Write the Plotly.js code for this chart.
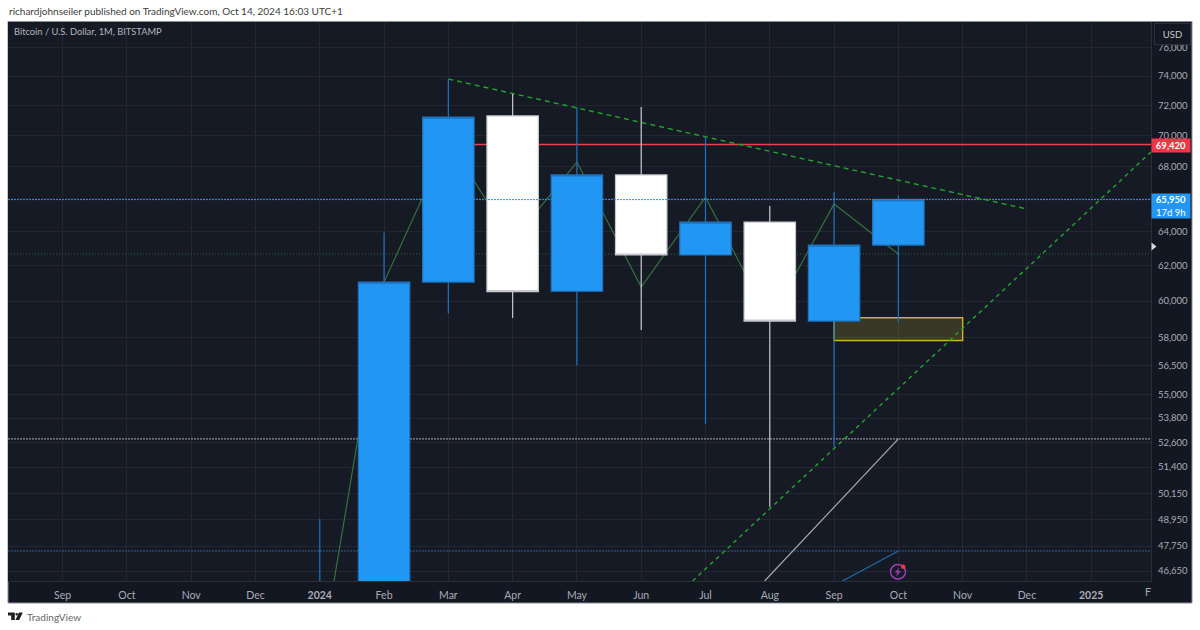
<!DOCTYPE html>
<html><head><meta charset="utf-8">
<script src="https://cdn.plot.ly/plotly-3.0.1.min.js"></script>
<style>html,body{margin:0;padding:0;background:#fff}</style></head>
<body><div id="chart" style="width:1200px;height:630px"></div>
<script>
// ---- data ----
const axisMonths = ['Sep','Oct','Nov','Dec','<b>2024</b>','Feb','Mar','Apr','May','Jun','Jul','Aug','Sep','Oct','Nov','Dec','<b>2025</b>'];
const axisMonthIdx = [0,1,2,3,4,5,6,7,8,9,10,11,12,13,14,15,16];
const candleIdx = [4,5,6,7,8,9,10,11,12,13];
const opens  = [42300,42600,61070,71300,60550,67480,62630,64580,58890,63210];
const highs  = [48970,63950,73790,72770,71890,71890,69900,65560,66410,66200];
const lows   = [38500,41900,59300,59060,56500,58400,53500,49520,52360,58800];
const closes = [42600,61070,71220,60530,67480,62630,64580,58890,63210,65950];
const priceTicks = [46650,47750,48950,50150,51400,52600,53800,55000,56500,58000,60000,62000,64000,66000,68000,70000,72000,74000,76000];
const priceTickText = ['46,650','47,750','48,950','50,150','51,400','52,600','53,800','55,000','56,500','58,000','60,000','62,000','64,000','','68,000','70,000','72,000','74,000','76,000'];
const zigzagIdx = [4,5,6,7,8,9,10,11,12,13];
const zigzagVal = [42700,61070,69650,63450,68300,60790,66100,58890,65680,62690];
const fullSpan = [-0.85,16.93];
const resistance = 69420, lastPrice = 65950, greenLevel = 62690, whiteLevel = 52770, blueLevel = 47530;
const redIdx = [6,16.93];
const downTrendIdx = [6,15], downTrendVal = [73790,65370];
const upTrendIdx = [9.80,16.93], upTrendVal = [46220,68940];
const whiteRayIdx = [10.92,13], whiteRayVal = [46220,52770];
const blueRayIdx = [12.13,13], blueRayVal = [46220,47530];
const zoneIdx = [12,14,14,12,12], zoneVal = [59073,59073,57830,57830,59073];

// ---- layout helpers (pixel position -> paper fraction) ----
const L=8,R=1151,T=22,B=581;
const px = x => (x-L)/(R-L), py = y => (B-y)/(B-T);
const pt = (x,y) => px(x)+','+py(y);
const pathOf = pts => 'M'+pts.map(p=>pt(p[0],p[1])).join('L')+'Z';
const rect = (x0,y0,x1,y1,fill,line,w,layer) => ({type:'rect',xref:'paper',yref:'paper',x0:px(x0),x1:px(x1),y0:py(y0),y1:py(y1),fillcolor:fill,line:{color:line||'rgba(0,0,0,0)',width:w||0},layer:layer||'above'});
const poly = (pts,fill) => ({type:'path',xref:'paper',yref:'paper',path:pathOf(pts),fillcolor:fill,line:{width:0},layer:'above'});
const FONT = 'Lato, sans-serif';
const txt = (x,y,text,size,color,anchor,extra) => Object.assign({xref:'paper',yref:'paper',x:px(x),y:py(y),text:text,showarrow:false,xanchor:anchor||'left',yanchor:'middle',borderpad:0,font:{family:FONT,size:size,color:color}},extra||{});

const flat = (idx,v,color,dash,w) => ({type:'scatter',mode:'lines',x:idx,y:idx.map(()=>v),line:{color:color,dash:dash,width:w},hoverinfo:'skip',showlegend:false});
const seg = (x,y,color,dash,w) => ({type:'scatter',mode:'lines',x:x,y:y,line:{color:color,dash:dash||'solid',width:w},hoverinfo:'skip',showlegend:false});

const traces = [
  flat(fullSpan,greenLevel,'#2c6b3a','1px,2px',1),
  flat(fullSpan,whiteLevel,'#8f8f98','2px,1px',1.2),
  flat(fullSpan,blueLevel,'#2a5f8f','2px,1px',1.2),
  flat(redIdx,resistance,'#e8404e','solid',1.4),
  seg(zigzagIdx,zigzagVal,'#35703f','solid',1.2),
  {type:'scatter',mode:'lines',x:zoneIdx,y:zoneVal,fill:'toself',fillcolor:'rgba(200,180,50,0.2)',line:{color:'#c9b52b',width:1.4},hoverinfo:'skip',showlegend:false},
  seg(whiteRayIdx,whiteRayVal,'#a8a8b0','solid',1.2),
  seg(blueRayIdx,blueRayVal,'#1f6aa8','solid',1.2),
  seg(downTrendIdx,downTrendVal,'#22a52d','5px,4px',1.4),
  seg(upTrendIdx,upTrendVal,'#22a52d','4px,4px',1.4),
  {type:'candlestick',x:candleIdx,open:opens,high:highs,low:lows,close:closes,yaxis:'y2',whiskerwidth:0,
   increasing:{line:{color:'#1e73be',width:1.2},fillcolor:'#2196f3'},
   decreasing:{line:{color:'#c8c8ce',width:1.2},fillcolor:'#ffffff'},hoverinfo:'skip',showlegend:false},
  Object.assign(flat(fullSpan,lastPrice,'#2196f3','2px,1px',1),{yaxis:'y2'})
];

const yRange = [Math.log10(46220),Math.log10(77820)];
const layout = {
  width:1200,height:630,showlegend:false,
  margin:{l:L,r:1200-R,t:T,b:630-B,pad:0},
  paper_bgcolor:'#ffffff',plot_bgcolor:'#161a25',boxgap:0.2,boxgroupgap:0,hovermode:false,dragmode:false,
  xaxis:{type:'linear',range:fullSpan,tickmode:'array',tickvals:axisMonthIdx,ticktext:axisMonths,showgrid:true,gridcolor:'#242733',gridwidth:1,zeroline:false,
    showline:true,linecolor:'#2a2e39',linewidth:1,ticks:'',ticklabelstandoff:4,tickangle:0,rangeslider:{visible:false},
    tickfont:{family:FONT,size:10.5,color:'#a9acb6'}},
  yaxis:{type:'log',range:yRange,side:'right',tickmode:'array',tickvals:priceTicks,ticktext:priceTickText,showgrid:true,gridcolor:'#242733',gridwidth:1,zeroline:false,
    showline:true,linecolor:'#2a2e39',linewidth:1,ticks:'',ticklabelstandoff:4,
    tickfont:{family:FONT,size:9.5,color:'#a9acb6'}},
  yaxis2:{type:'log',range:yRange,overlaying:'y',side:'right',showticklabels:false,showgrid:false,zeroline:false,ticks:''},
  shapes:[
    rect(8,21.5,1192,603,'#131722','#8b8f9a',1,'below'),
    rect(8,22,1151,581,'#161a25',null,0,'below'),
    // alert icon
    {type:'circle',xref:'paper',yref:'paper',x0:px(890.5),x1:px(905.5),y0:py(579),y1:py(564.5),fillcolor:'rgba(0,0,0,0)',line:{color:'#9c3fb5',width:1.4},layer:'above'},
    poly([[899.5,567.5],[894.5,572.5],[897.5,572.5],[896,576.5],[901,571],[898,571]],'#9c3fb5'),
    {type:'circle',xref:'paper',yref:'paper',x0:px(901),x1:px(905.5),y0:py(569),y1:py(564.5),fillcolor:'#f23645',line:{width:0},layer:'above'},
    // last-bar marker on price scale
    poly([[1151.5,242.5],[1156.5,246.5],[1151.5,250.5]],'#d8d8dc'),
    // TradingView mark
    poly([[8,612.5],[14.8,612.5],[14.8,620],[11.2,620],[11.2,615.4],[8,615.4]],'#1f1f1f'),
    {type:'circle',xref:'paper',yref:'paper',x0:px(15.4),x1:px(18),y0:py(615.6),y1:py(613),fillcolor:'#1f1f1f',line:{width:0},layer:'above'},
    poly([[19,612.5],[22.8,612.5],[19.2,620],[15.4,620]],'#1f1f1f')
  ],
  annotations:[
    txt(8,11,'richardjohnseiler published on TradingView.com, Oct 14, 2024 16:03 UTC+1',10,'#3c3c3c'),
    txt(13,31.5,'Bitcoin / U.S. Dollar, 1M, BITSTAMP',9.3,'#b2b5be'),
    txt(1154,34,'USD',9.5,'#c8cad0','left',{width:35,height:20,align:'center',bgcolor:'#131722',bordercolor:'#2a2e39',borderwidth:1}),
    txt(1151,145.5,'<b>69,420</b>',9.5,'#ffffff','left',{width:38,height:13,align:'center',bgcolor:'#f23645'}),
    txt(1151,206,'<b>65,950</b><br>17d 9h',9.5,'#ffffff','left',{width:38,height:24,align:'center',bgcolor:'#2196f3'}),
    txt(1151.5,592,'F',10.5,'#a9acb6','right'),
    txt(26,616.5,'TradingView',10,'#666666')
  ]
};
Plotly.newPlot('chart',traces,layout,{displayModeBar:false,staticPlot:true});
</script></body></html>
